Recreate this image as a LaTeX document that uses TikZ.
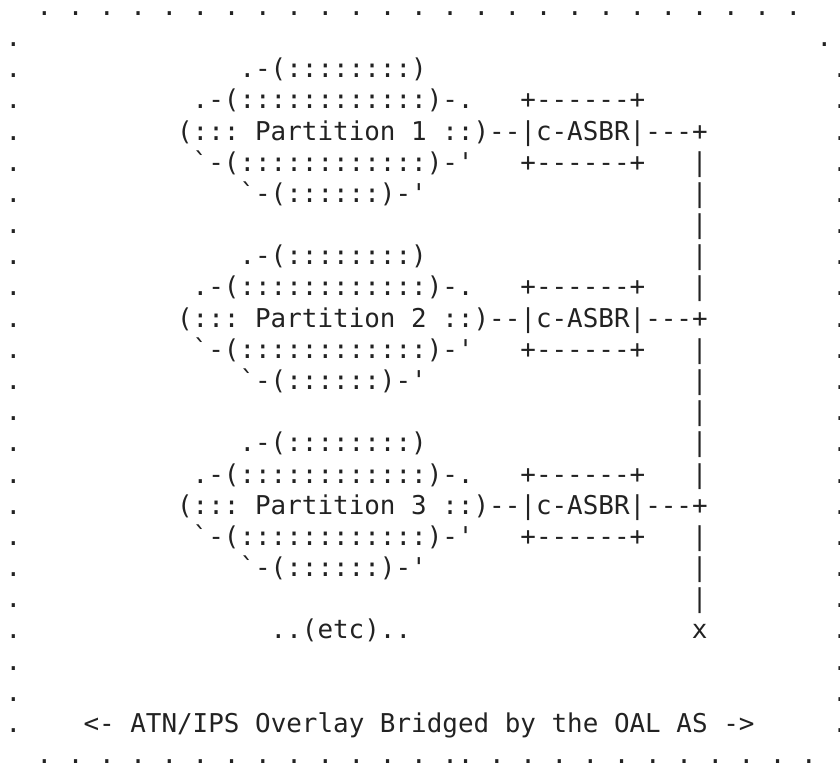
\documentclass[tikz,border=0pt]{standalone}
\usepackage{fontspec}
\setmonofont{DejaVu Sans Mono}
\usepackage{tikz}
\usetikzlibrary{positioning}
\usetikzlibrary{calc}
\definecolor{ink}{HTML}{222222}
\tikzstyle{glyph}=[font=\ttfamily\fontsize{12.96}{15.59}\selectfont,text=ink,inner sep=0pt,outer sep=0pt,anchor=base west]
\tikzstyle{border}=[glyph]
\tikzstyle{cloud}=[glyph]
\tikzstyle{router}=[glyph]
\tikzstyle{link}=[glyph]

\begin{document}
\begin{tikzpicture}[x=7.8pt,y=15.59pt]
 \frenchspacing
 \useasboundingbox (0,0) rectangle (53.846,-24.567);

 \def\dx{0.353};
 \def\dy{0.509};

 %frame
 \foreach \c in {2,4,...,50}
   \node[border] (top\c) at (\c+\dx, -1+\dy) {.};
 \foreach \c in {2,4,...,28}
   \node[border] (bot\c) at (\c+\dx, -25+\dy) {.};
 \foreach \c in {29,31,...,51}
   \node[border] (bot\c) at (\c+\dx, -25+\dy) {.};
 \foreach \r in {2,...,24}
   \node[border] (left\r) at (\dx, -\r+\dy) {.};
 \node[border] (right2) at (52+\dx, -2+\dy) {.};
 \foreach \r in {3,...,24}
   \node[border] (right\r) at (53+\dx, -\r+\dy) {.};

 %partitions
 \foreach \p in {1,2,3} {
   \pgfmathsetmacro{\o}{6*(\p-1)}

   \foreach \x/\y/\name/\label in {15/3/top/{.-(::::::::)}, 12/4/up/{.-(::::::::::::)-.}, 12/6/low/{`-(::::::::::::)-'}, 15/7/bot/{`-(::::::)-'}}
     \node[cloud] (p\p\name) at (\x+\dx, -\y-\o+\dy) {\label};

   \node[cloud] (mid\p) at (11+\dx, -5-\o+\dy) {(::: Partition \p\ ::)};
   \node[link] (l\p) at (mid\p.base east) {--};
   \node[router] (r\p) at (l\p.base east) {|c-ASBR|};
   \node[link] (t\p) at (r\p.base east) {---+};

   \node[router] (rtop\p) at ($(r\p.base west)+(0,1)$) {+------+};
   \node[router] (rbot\p) at ($(r\p.base west)+(0,-1)$) {+------+};
 }

 %trunk
 \foreach \r in {6,7,8,9,10,12,13,14,15,16,18,19,20}
   \node[link] (trunk\r) at (44+\dx, -\r+\dy) {|};
 \node[link] (end) at (44+\dx, -21+\dy) {x};

 \node[cloud] (etc) at (17+\dx, -21+\dy) {..(etc)..};
 \node[glyph] (overlay) at (5+\dx, -24+\dy) {<- ATN/IPS Overlay Bridged by the OAL AS ->};

\end{tikzpicture}
\end{document}
